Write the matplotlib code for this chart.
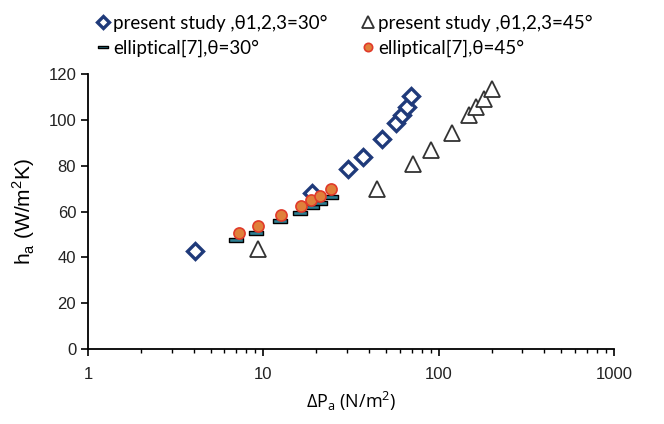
import matplotlib.pyplot as plt
from matplotlib.path import Path
from matplotlib.ticker import FixedLocator, FixedFormatter, LogLocator, NullFormatter

# present study, theta = 30 deg
dp_30 = [4.1, 18.9, 30.4, 37.0, 47.5, 56.9, 61.6, 65.8, 69.6]
h_30 = [42.8, 68.0, 78.5, 83.9, 91.6, 98.9, 102.1, 105.7, 110.5]

# present study, theta = 45 deg
dp_45 = [9.3, 44.3, 71.7, 90.2, 118.8, 147.8, 163.5, 179.9, 200.9]
h_45 = [43.5, 69.8, 80.7, 86.7, 94.5, 102.1, 105.7, 109.1, 113.7]

# elliptical [7], theta = 30 deg
dp_e30 = [7.0, 9.05, 12.45, 16.2, 18.9, 21.1, 24.2]
h_e30 = [47.6, 50.7, 55.7, 59.3, 62.0, 63.7, 66.2]

# elliptical [7], theta = 45 deg
dp_e45 = [7.24, 9.29, 12.6, 16.4, 18.7, 20.9, 24.2]
h_e45 = [50.5, 53.8, 58.5, 62.5, 65.0, 67.0, 69.7]

xticks = [1, 10, 100, 1000]
xlabels = ["1", "10", "100", "1000"]
yticks = [0, 20, 40, 60, 80, 100, 120]

plt.rcParams["font.family"] = ["Liberation Sans", "DejaVu Sans"]

dash = Path([(-1, -0.25), (1, -0.25), (1, 0.25), (-1, 0.25), (-1, -0.25)],
            [Path.MOVETO, Path.LINETO, Path.LINETO, Path.LINETO, Path.CLOSEPOLY])

fig = plt.figure(figsize=(6.64, 4.24), dpi=100)
ax = fig.add_axes([0.1325, 0.177, 0.7925, 0.648])

h1, = ax.plot(dp_30, h_30, ls="none", marker="D", ms=8, mfc="white",
              mec="#1F3A7A", mew=2.4, label="present study ,\u03b81,2,3=30\u00b0")
h2, = ax.plot(dp_45, h_45, ls="none", marker="^", ms=12, mfc="white",
              mec="#333333", mew=1.3, label="present study ,\u03b81,2,3=45\u00b0")
h3, = ax.plot(dp_e30, h_e30, ls="none", marker=dash, ms=10, mfc="#2E7F93",
              mec="black", mew=1.0, label="elliptical[7],\u03b8=30\u00b0")
h4, = ax.plot(dp_e45, h_e45, ls="none", marker="o", ms=8, mfc="#E0803A",
              mec="#E03A2A", mew=1.2, label="elliptical[7],\u03b8=45\u00b0")

ax.set_xscale("log")
ax.set_xlim(1, 1000)
ax.set_ylim(0, 120)
ax.xaxis.set_major_locator(FixedLocator(xticks))
ax.xaxis.set_major_formatter(FixedFormatter(xlabels))
ax.xaxis.set_minor_locator(LogLocator(base=10, subs=range(2, 10)))
ax.xaxis.set_minor_formatter(NullFormatter())
ax.set_yticks(yticks)

for side in ["top", "right"]:
    ax.spines[side].set_visible(False)
for side in ["left", "bottom"]:
    ax.spines[side].set_linewidth(1.3)
    ax.spines[side].set_color("black")

ax.tick_params(axis="both", which="major", direction="out", length=5,
               width=1.2, labelsize=12, colors="black", labelcolor="#222222")
ax.tick_params(axis="x", which="minor", direction="out", length=3, width=1.0)
ax.tick_params(axis="x", which="major", pad=8)

ax.set_ylabel("h$_\\mathregular{a}$ (W/m$^\\mathregular{2}$K)", fontsize=15, labelpad=8)
ax.set_xlabel("\u0394P$_\\mathregular{a}$ (N/m$^\\mathregular{2}$)", fontsize=13,
              family=["Open Sans", "DejaVu Sans"], labelpad=6)

# row-wise order: matplotlib fills legend columns first
fig.legend(handles=[h1, h3, h2, h4], loc="upper left", bbox_to_anchor=(0.122, 1.005),
           ncol=2, frameon=False, handlelength=0.5, handletextpad=0.3,
           columnspacing=1.9, labelspacing=0.4, markerscale=0.75,
           prop={"family": ["Lato", "DejaVu Sans"], "size": 13.5})

fig.savefig("out.png", dpi=100)
